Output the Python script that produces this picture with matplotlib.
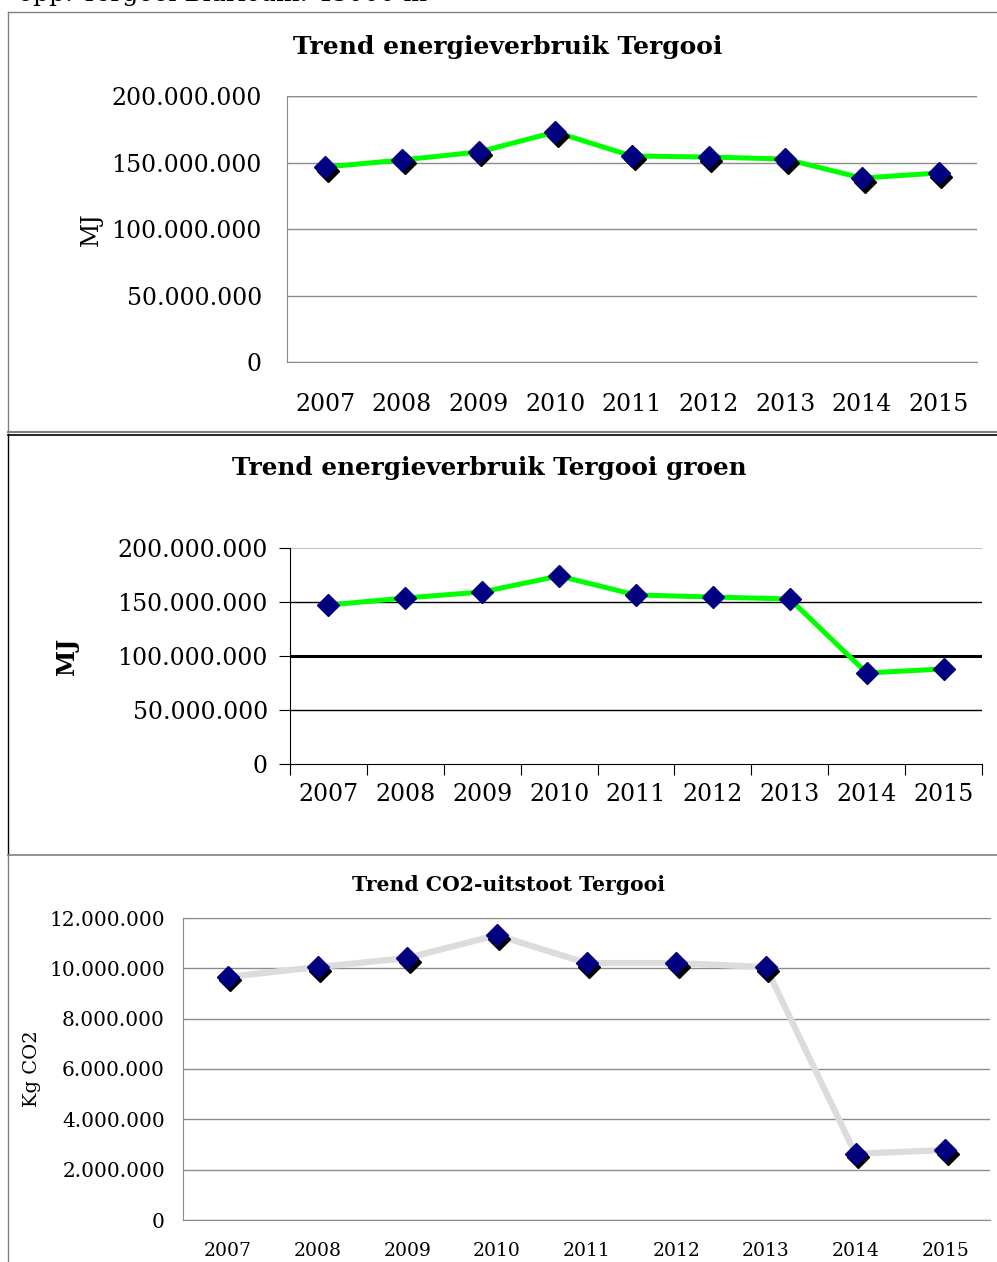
import matplotlib
matplotlib.use("Agg")
import matplotlib.pyplot as plt
import matplotlib.transforms as mtransforms
from matplotlib.lines import Line2D
from matplotlib.ticker import FuncFormatter, FixedLocator
import numpy as np

W, H = 997, 1262

years = ["2007", "2008", "2009", "2010", "2011", "2012", "2013", "2014", "2015"]
energie_mj = [146.6e6, 151.9e6, 157.9e6, 172.9e6, 154.9e6, 154.1e6, 152.6e6, 138.3e6, 142.1e6]
energie_groen_mj = [147.2e6, 153.7e6, 159.3e6, 174.1e6, 156.5e6, 154.6e6, 152.8e6, 84.3e6, 88.0e6]
co2_kg = [9.66e6, 10.05e6, 10.41e6, 11.32e6, 10.21e6, 10.21e6, 10.05e6, 2.63e6, 2.78e6]

mj_ticks = [0, 50e6, 100e6, 150e6, 200e6]
co2_ticks = [0, 2e6, 4e6, 6e6, 8e6, 10e6, 12e6]

SERIF = ["DejaVu Serif"]

fig = plt.figure(figsize=(W / 100, H / 100), dpi=100)


def box(x0, y0, x1, y1):
    return [x0 / W, 1 - y1 / H, (x1 - x0) / W, (y1 - y0) / H]


def hline(y, x0, x1, color, lw):
    fig.add_artist(Line2D([x0 / W, x1 / W], [1 - y / H, 1 - y / H], color=color, lw=lw,
                          transform=fig.transFigure))


def vline(x, y0, y1, color, lw):
    fig.add_artist(Line2D([x / W, x / W], [1 - y0 / H, 1 - y1 / H], color=color, lw=lw,
                          transform=fig.transFigure))


def dots(v):
    return f"{int(round(v)):,}".replace(",", ".")


fmt = FuncFormatter(lambda v, p: dots(v))

# header text (cut off at top, as in the source)
fig.text(18 / W, 1 - 1 / H, "opp. Tergooi Blaricum: 43000 m²", family=SERIF, fontsize=18,
         va="baseline", ha="left")

# panel frames
hline(12, 8, 997, "#808080", 1.0)
vline(8, 12, 432, "#808080", 1.0)
hline(432, 8, 997, "#808080", 1.5)
hline(434.5, 8, 997, "black", 1.2)
vline(8, 434, 855, "black", 1.0)
hline(855, 8, 997, "#808080", 1.2)
vline(8, 855, 1262, "#808080", 1.0)

x = np.arange(len(years))


def shadow_plot(ax, vals):
    tr = mtransforms.offset_copy(ax.transData, fig=fig, x=2.5, y=-3.5, units="dots")
    ax.plot(x, vals, linestyle="none", marker="D", ms=11, color="black", transform=tr, zorder=3)


# ---------- Chart 1 ----------
ax1 = fig.add_axes(box(287, 96, 977, 362))
ax1.set_xlim(-0.5, 8.5)
ax1.set_ylim(0, 200e6)
ax1.yaxis.set_major_locator(FixedLocator(mj_ticks))
ax1.yaxis.set_major_formatter(fmt)
ax1.grid(axis="y", color="#8c8c8c", lw=1.0)
ax1.set_axisbelow(True)
for s in ["top", "right"]:
    ax1.spines[s].set_visible(False)
for s in ["left", "bottom"]:
    ax1.spines[s].set_color("#8c8c8c")
ax1.axhline(200e6, color="#8c8c8c", lw=1.0)
ax1.plot(x, energie_mj, color="#00ff00", lw=3.6, zorder=2)
shadow_plot(ax1, energie_mj)
ax1.plot(x, energie_mj, linestyle="none", marker="D", ms=11, color="#000080", zorder=4)
ax1.set_xticks(x)
ax1.set_xticklabels(years)
ax1.tick_params(axis="both", length=0, labelsize=17)
ax1.tick_params(axis="x", pad=22)
ax1.tick_params(axis="y", pad=18)
for lab in ax1.get_xticklabels() + ax1.get_yticklabels():
    lab.set_family(SERIF)
ax1.set_ylabel("MJ", family=SERIF, fontsize=17, labelpad=6)
fig.text(508 / W, 1 - 47 / H, "Trend energieverbruik Tergooi", family=SERIF, weight="bold",
         fontsize=18, ha="center", va="center")

# ---------- Chart 2 ----------
ax2 = fig.add_axes(box(290, 548, 982, 764))
ax2.set_xlim(-0.5, 8.5)
ax2.set_ylim(0, 200e6)
ax2.yaxis.set_major_locator(FixedLocator(mj_ticks))
ax2.yaxis.set_major_formatter(fmt)
for v in mj_ticks[1:4]:
    ax2.axhline(v, color="black", lw=2.2 if v == 100e6 else 1.0, zorder=1)
ax2.axhline(200e6, color="#c0c0c0", lw=1.5, zorder=1)
for s in ["top", "right"]:
    ax2.spines[s].set_visible(False)
for s in ["left", "bottom"]:
    ax2.spines[s].set_color("black")
ax2.plot(x, energie_groen_mj, color="#00ff00", lw=3.6, zorder=2)
ax2.plot(x, energie_groen_mj, linestyle="none", marker="D", ms=11, color="#000080", zorder=4)
ax2.set_xticks(np.arange(-0.5, 9.0, 1.0))
ax2.set_xticklabels([])
ax2.set_xticks(x, minor=True)
ax2.set_xticklabels(years, minor=True)
ax2.tick_params(axis="x", which="major", length=8, direction="out", color="black")
ax2.tick_params(axis="x", which="minor", length=0, labelsize=17, pad=14)
ax2.tick_params(axis="y", length=8, direction="out", labelsize=17, pad=8)
for lab in ax2.get_xticklabels(minor=True) + ax2.get_yticklabels():
    lab.set_family(SERIF)
ax2.set_ylabel("MJ", family=SERIF, fontsize=17, weight="bold", labelpad=28)
fig.text(489 / W, 1 - 468 / H, "Trend energieverbruik Tergooi groen", family=SERIF,
         weight="bold", fontsize=17.8, ha="center", va="center")

# ---------- Chart 3 ----------
ax3 = fig.add_axes(box(183, 918, 990, 1220))
ax3.set_xlim(-0.5, 8.5)
ax3.set_ylim(0, 12e6)
ax3.yaxis.set_major_locator(FixedLocator(co2_ticks))
ax3.yaxis.set_major_formatter(fmt)
ax3.grid(axis="y", color="#8c8c8c", lw=1.0)
ax3.set_axisbelow(True)
for s in ["right"]:
    ax3.spines[s].set_visible(False)
for s in ["left", "bottom", "top"]:
    ax3.spines[s].set_color("#8c8c8c")
ax3.plot(x, co2_kg, color="#dcdcdc", lw=4.5, zorder=2)
shadow_plot(ax3, co2_kg)
ax3.plot(x, co2_kg, linestyle="none", marker="D", ms=11, color="#000080", zorder=4)
ax3.set_xticks(x)
ax3.set_xticklabels(years)
ax3.tick_params(axis="both", length=0, labelsize=13.5)
ax3.tick_params(axis="y", labelsize=14.5, pad=13)
ax3.tick_params(axis="x", pad=16)
for lab in ax3.get_xticklabels() + ax3.get_yticklabels():
    lab.set_family(SERIF)
ax3.set_ylabel("Kg CO2", family=SERIF, fontsize=14, labelpad=6)
fig.text(508 / W, 1 - 885 / H, "Trend CO2-uitstoot Tergooi", family=SERIF, weight="bold",
         fontsize=14.7, ha="center", va="center")

fig.savefig("out.png", dpi=100)
